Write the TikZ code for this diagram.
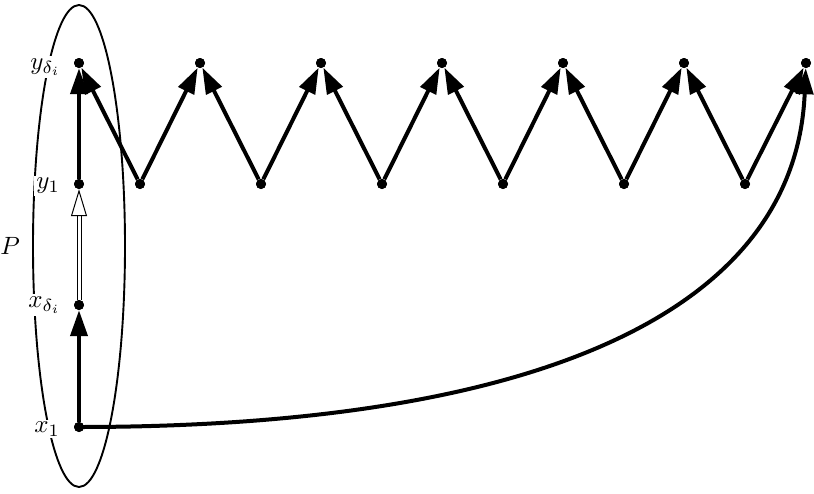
\documentclass[tikz,border=0pt]{standalone}
\usetikzlibrary{arrows.meta}
\begin{document}
\begin{tikzpicture}[x=1pt,y=-1pt,
  dot/.style={circle,fill=black,inner sep=0pt,minimum size=10pt},
  lbl/.style={anchor=east,inner sep=2pt,fill=white},
  thickarrow/.style={line width=4pt,-{Triangle[length=26pt,width=17pt]}},
  openarrow/.style={double=white,double distance=3pt,line width=1pt,-{Triangle[open,fill=white,length=27pt,width=16pt,line width=1pt]}},
  ell/.style={line width=1.9pt}]
\useasboundingbox (0,0) rectangle (814,493);
% ellipse
\draw[ell] (79,246) ellipse [x radius=46, y radius=241];
% nodes
\node[dot] (x1) at (79,427) {};
\node[dot] (xd) at (79,305) {};
\node[dot] (y1) at (79,184) {};
\node[dot] (yd) at (79,63) {};
\foreach \i/\x in {2/200,3/321,4/442,5/563,6/684,7/806}{\node[dot] (t\i) at (\x,63) {};}
\foreach \i/\x in {1/140,2/261,3/382,4/503,5/624,6/745}{\node[dot] (b\i) at (\x,184) {};}
% labels
\node[lbl] (lyd) at (63,67) {\scalebox{2.5}{$y_{\delta_i}$}};
\node[lbl] (ly1) at (62,186) {\scalebox{2.5}{$y_1$}};
\node[lbl] (lp) at (22,246) {\scalebox{2.5}{$P$}};
\node[lbl] (lxd) at (63,305) {\scalebox{2.5}{$x_{\delta_i}$}};
\node[lbl] (lx1) at (62,429) {\scalebox{2.5}{$x_1$}};
% vertical arrows
\draw[thickarrow] (x1) -- (xd);
\draw[openarrow] (xd) -- (y1);
\draw[thickarrow] (y1) -- (yd);
% zigzag
\draw[thickarrow] (b1) -- (yd);
\draw[thickarrow] (b1) -- (t2);
\draw[thickarrow] (b2) -- (t2);
\draw[thickarrow] (b2) -- (t3);
\draw[thickarrow] (b3) -- (t3);
\draw[thickarrow] (b3) -- (t4);
\draw[thickarrow] (b4) -- (t4);
\draw[thickarrow] (b4) -- (t5);
\draw[thickarrow] (b5) -- (t5);
\draw[thickarrow] (b5) -- (t6);
\draw[thickarrow] (b6) -- (t6);
\draw[thickarrow] (b6) -- (t7);
% curve
\draw[thickarrow] (x1.center) .. controls (520,427) and (795,320) .. (t7);
% redraw dots on top
\foreach \n in {x1,xd,y1,yd,t2,t3,t4,t5,t6,t7,b1,b2,b3,b4,b5,b6}{\fill (\n.center) circle (5pt);}
\end{tikzpicture}
\end{document}
